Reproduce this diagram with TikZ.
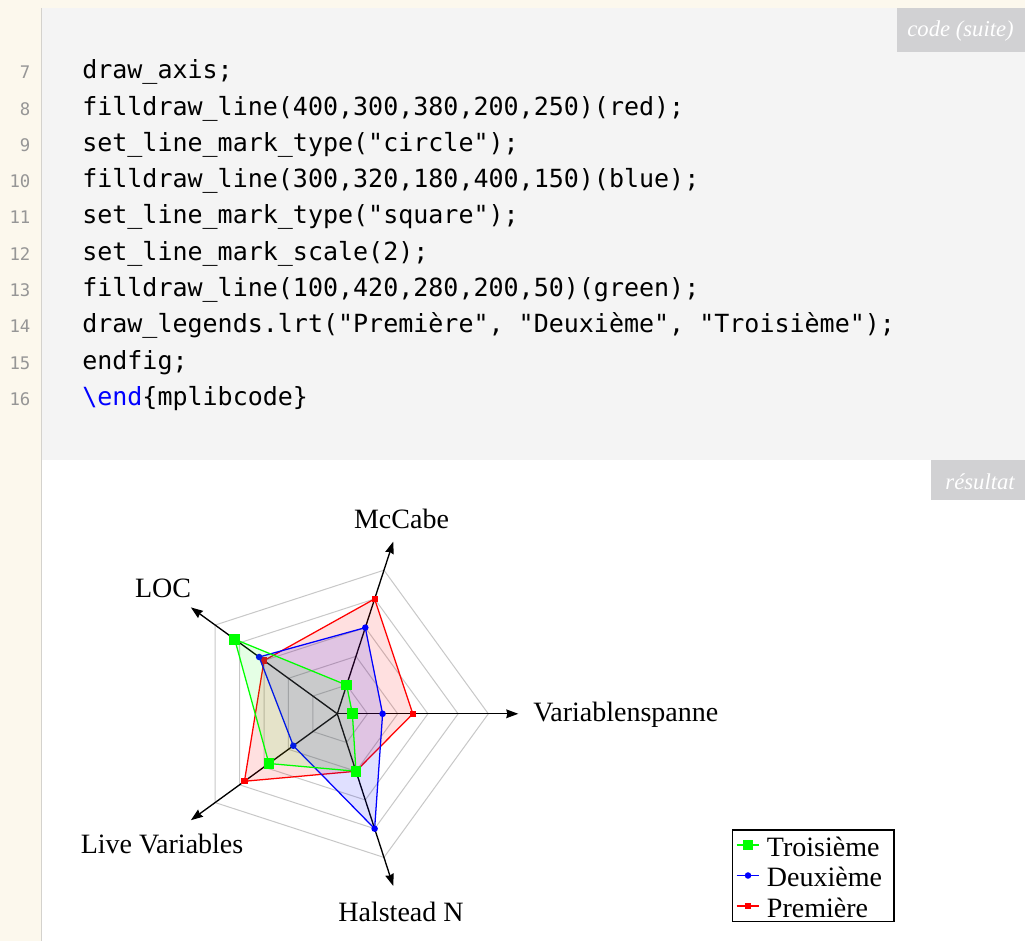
\documentclass[tikz,border=0pt]{standalone}
\usepackage{fontspec}
\setmainfont{Liberation Serif}
\newfontfamily\codefont{DejaVu Sans Mono}
\usetikzlibrary{arrows.meta}
\definecolor{creambg}{RGB}{252,248,237}
\definecolor{codebg}{RGB}{244,244,244}
\definecolor{tagbg}{RGB}{209,209,211}
\definecolor{sepline}{RGB}{212,210,205}
\definecolor{numgray}{RGB}{150,150,150}
\definecolor{gridgray}{RGB}{200,200,200}
\definecolor{pgreen}{RGB}{0,255,0}
\definecolor{pblue}{RGB}{0,0,255}
\definecolor{pred}{RGB}{255,0,0}
\tikzset{
  codeline/.style={anchor=base west, inner sep=0pt, font=\codefont\fontsize{18.75pt}{22pt}\selectfont},
  linenum/.style={anchor=base east, inner sep=0pt, text=numgray, font=\codefont\fontsize{13pt}{15pt}\selectfont},
  tagtext/.style={anchor=base east, inner sep=0pt, text=white, font=\itshape\fontsize{17pt}{20pt}\selectfont},
  axlabel/.style={anchor=base, inner sep=0pt, font=\fontsize{21pt}{24pt}\selectfont},
  gridline/.style={draw=gridgray, line width=0.75pt},
  axisline/.style={draw=black, line width=1pt, -{Stealth[length=9pt,width=6.5pt,inset=0.8pt]}},
  redmark/.style={rectangle, fill=pred, minimum size=4.6pt, inner sep=0pt},
  bluemark/.style={circle, fill=pblue, minimum size=4.9pt, inner sep=0pt},
  greenmark/.style={rectangle, fill=pgreen, minimum size=8pt, inner sep=0pt},
  polyline/.style={line width=0.95pt, line join=miter},
  legtext/.style={anchor=base west, inner sep=0pt, font=\fontsize{21pt}{24pt}\selectfont},
}
\frenchspacing
\begin{document}
\begin{tikzpicture}[x=0.75pt,y=-0.75pt]
\useasboundingbox (0,0) rectangle (1025,941);
% backgrounds
\fill[creambg] (0,0) rectangle (1025,941);
\fill[codebg] (42,8) rectangle (1025,459.5);
\fill[white] (42,459.5) rectangle (1025,941);
\draw[sepline, line width=0.9pt] (41.5,8) -- (41.5,941);
% tags
\fill[tagbg] (896.7,8) rectangle (1025,51.7);
\node[tagtext] (tagcode) at (1014,36.7) {code (suite)};
\fill[tagbg] (931,460) rectangle (1025,500);
\node[tagtext] (tagres) at (1015,489.3) {résultat};
% code lines
\foreach \n/\txt in {
  7/{draw\_axis;},
  8/{filldraw\_line(400,300,380,200,250)(red);},
  9/{set\_line\_mark\_type("circle");},
  10/{filldraw\_line(300,320,180,400,150)(blue);},
  11/{set\_line\_mark\_type("square");},
  12/{set\_line\_mark\_scale(2);},
  13/{filldraw\_line(100,420,280,200,50)(green);},
  14/{draw\_legends.lrt("Première", "Deuxième", "Troisième");},
  15/{endfig;},
  16/{\textcolor{pblue}{\textbackslash end}\{mplibcode\}}} {
  \node[linenum] (num\n) at (30.7,{79+36.25*(\n-7)}) {\n};
  \node[codeline] (code\n) at (82,{79+36.25*(\n-7)}) {\txt};
}
% chart
\def\rsc{0.302}
\begin{scope}[shift={(337.3,713.8)}, yscale=-1]
  \coordinate (O) at (0,0);
  \foreach \r in {1,...,5} {
    \draw[gridline] (72:{\r*100*\rsc}) -- (144:{\r*100*\rsc}) -- (216:{\r*100*\rsc}) -- (288:{\r*100*\rsc}) -- (360:{\r*100*\rsc}) -- cycle;
  }
  \foreach \i in {1,...,5} {
    \coordinate (A\i) at ({72*\i}:181);
    \draw[axisline] (O) -- (A\i);
  }
  \foreach \v [count=\i] in {400,300,380,200,250} \coordinate (R\i) at ({72*\i}:{\v*\rsc});
  \foreach \v [count=\i] in {300,320,180,400,150} \coordinate (B\i) at ({72*\i}:{\v*\rsc});
  \foreach \v [count=\i] in {100,420,280,200,50} \coordinate (G\i) at ({72*\i}:{\v*\rsc});
  \fill[pred, opacity=0.12] (R1) -- (R2) -- (R3) -- (R4) -- (R5) -- cycle;
  \draw[pred, polyline] (R1) -- (R2) -- (R3) -- (R4) -- (R5) -- cycle;
  \foreach \i in {1,...,5} \node[redmark] (rm\i) at (R\i) {};
  \fill[pblue, opacity=0.12] (B1) -- (B2) -- (B3) -- (B4) -- (B5) -- cycle;
  \draw[pblue, polyline] (B1) -- (B2) -- (B3) -- (B4) -- (B5) -- cycle;
  \foreach \i in {1,...,5} \node[bluemark] (bm\i) at (B\i) {};
  \fill[pgreen, opacity=0.1] (G1) -- (G2) -- (G3) -- (G4) -- (G5) -- cycle;
  \draw[pgreen, polyline] (G1) -- (G2) -- (G3) -- (G4) -- (G5) -- cycle;
  \foreach \i in {1,...,5} \node[greenmark] (gm\i) at (G\i) {};
\end{scope}
% axis labels
\node[axlabel] (lmccabe) at (401.5,528) {McCabe};
\node[axlabel] (lloc) at (163,597) {LOC};
\node[axlabel, anchor=base west] (lvar) at (533,721) {Variablenspanne};
\node[axlabel] (llive) at (162,853) {Live Variables};
\node[axlabel] (lhal) at (401,921) {Halstead N};
% legend
\node[draw=black, line width=0.9pt, anchor=north west, minimum width=121.2pt, minimum height=68.5pt, inner sep=0pt] (legend) at (731.7,829.3) {};
\coordinate (lg1a) at (736.7,845); \coordinate (lg1b) at (759.3,845);
\coordinate (lg2a) at (736.7,875.5); \coordinate (lg2b) at (759.3,875.5);
\coordinate (lg3a) at (736.7,906); \coordinate (lg3b) at (759.3,906);
\draw[pgreen, line width=0.9pt] (lg1a) -- (lg1b);
\node[greenmark] (lgm1) at (748,845) {};
\draw[pblue, line width=0.9pt] (lg2a) -- (lg2b);
\node[bluemark] (lgm2) at (748,875.5) {};
\draw[pred, line width=0.9pt] (lg3a) -- (lg3b);
\node[redmark] (lgm3) at (748,906) {};
\node[legtext] (lt1) at (766.7,856) {Troisième};
\node[legtext] (lt2) at (766.7,886.5) {Deuxième};
\node[legtext] (lt3) at (766.7,917) {Première};
\end{tikzpicture}
\end{document}
